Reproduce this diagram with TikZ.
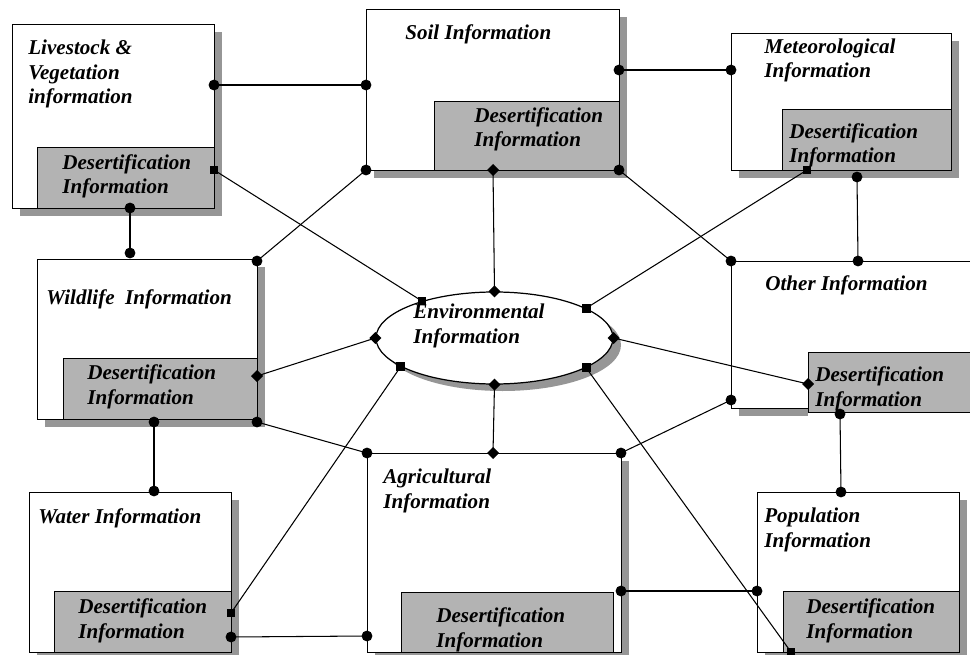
\documentclass[tikz,border=0pt]{standalone}
\usepackage{fontspec}
\setmainfont{Liberation Serif}
\usetikzlibrary{shapes.geometric}
\definecolor{shd}{RGB}{150,150,150}
\definecolor{subfill}{RGB}{179,179,179}
\tikzset{
  mbox/.style={draw=black, fill=white, anchor=north west, inner sep=0pt, line width=0.7pt},
  sbox/.style={draw=black, fill=subfill, anchor=north west, inner sep=0pt, line width=0.7pt},
  txt/.style={font=\bfseries\itshape\fontsize{12}{14}\selectfont, align=left, inner sep=0pt, anchor=base west},
  cdot/.style={circle, fill=black, inner sep=0pt, minimum size=6.2pt},
  sqm/.style={rectangle, fill=black, inner sep=0pt, minimum size=5pt},
  dmd/.style={diamond, fill=black, inner sep=0pt, minimum size=7pt},
  conn/.style={line width=0.6pt}
}
\newcommand\mainbox[5]{%
  \fill[shd] (#2+8,#3+8) rectangle (#4+8,#5+8);
  \node[mbox, minimum width={(#4-#2)*0.02cm}, minimum height={(#5-#3)*0.02cm}] (#1) at (#2,#3) {};}
\newcommand\subbox[5]{%
  \node[sbox, minimum width={(#4-#2)*0.02cm}, minimum height={(#5-#3)*0.02cm}] (#1) at (#2,#3) {};}
\begin{document}
\begin{tikzpicture}[x=0.02cm, y=-0.02cm]
\useasboundingbox (0,0) rectangle (970,655);
\clip (0,0) rectangle (970,655);
\fill[white] (0,0) rectangle (970,655);
% boxes
\mainbox{lv}{12}{24}{214}{208}
\subbox{lvd}{37}{147}{214}{208}
\mainbox{so}{366}{9}{619}{170}
\subbox{sod}{434}{101}{619}{170}
\mainbox{me}{731}{33}{951}{170}
\subbox{med}{782}{109}{951}{170}
\mainbox{wi}{37}{259}{257}{419}
\subbox{wid}{63}{358}{257}{419}
\fill[shd] (739,269) rectangle (808,416);
\node[mbox, minimum width={(1010-731)*0.02cm}, minimum height={(408-261)*0.02cm}] (ot) at (731,261) {};
\subbox{otd}{808}{352}{1010}{412}
\mainbox{wa}{29}{492}{231}{652}
\subbox{wad}{54}{591}{231}{652}
\mainbox{ag}{367}{453}{621}{652}
\subbox{agd}{401}{592}{613}{652}
\mainbox{po}{757}{492}{959}{652}
\subbox{pod}{783}{591}{959}{652}
% ellipse
\fill[shd] (502.5,345) ellipse (118.5 and 46);
\node[ellipse, draw=black, fill=white, line width=0.7pt, inner sep=0pt, minimum width={237*0.02cm}, minimum height={92*0.02cm}] (env) at (494.5,338) {};
% texts (anchor = baseline of the last line)
\node[txt] (lvt) at (28,104) {Livestock \&\\Vegetation\\information};
\node[txt] (lvdt) at (62,194) {Desertification\\Information};
\node[txt] (sot) at (405,40) {Soil Information};
\node[txt] (sodt) at (474,147) {Desertification\\Information};
\node[txt] (met) at (764,78) {Meteorological\\Information};
\node[txt] (medt) at (789,163) {Desertification\\Information};
\node[txt] (wit) at (46,304) {Wildlife\ \ Information};
\node[txt] (widt) at (87,404) {Desertification\\Information};
\node[txt] (ent) at (413,343) {Environmental\\Information};
\node[txt] (ott) at (765,290) {Other Information};
\node[txt] (otdt) at (815,406) {Desertification\\Information};
\node[txt] (wat) at (38,523) {Water Information};
\node[txt] (wadt) at (78,638) {Desertification\\Information};
\node[txt] (agt) at (383,508) {Agricultural\\Information};
\node[txt] (agdt) at (436,647) {Desertification\\Information};
\node[txt] (pot) at (764,547) {Population\\Information};
\node[txt] (podt) at (806,638) {Desertification\\Information};
% connector end points
\coordinate (lvR) at (214,85);
\coordinate (lvB) at (130,208);
\coordinate (lvS) at (214,170);
\coordinate (soL) at (366,85);
\coordinate (soR) at (619,70);
\coordinate (soBL) at (366,170);
\coordinate (soBR) at (619,170);
\coordinate (soD) at (493,170);
\coordinate (meL) at (731,70);
\coordinate (meB) at (857,177);
\coordinate (meS) at (807,170);
\coordinate (wiT) at (130,253);
\coordinate (wiTR) at (257,261);
\coordinate (wiB) at (154,422);
\coordinate (wiBR) at (257,422);
\coordinate (wiD) at (257,376);
\coordinate (otTL) at (731,261);
\coordinate (otT) at (858,261);
\coordinate (otBL) at (731,400);
\coordinate (otSB) at (840,414);
\coordinate (otD) at (808,384);
\coordinate (waT) at (154,491);
\coordinate (waR) at (231,637);
\coordinate (waS) at (231,613);
\coordinate (agTL) at (367,453);
\coordinate (agTR) at (621,453);
\coordinate (agR) at (621,591);
\coordinate (agL) at (367,636);
\coordinate (agD) at (493,453);
\coordinate (poT) at (841,492);
\coordinate (poL) at (757,591);
\coordinate (poS) at (791,652);
\coordinate (enT) at (env.90);
\coordinate (enB) at (env.270);
\coordinate (enL) at (env.180);
\coordinate (enR) at (env.0);
\coordinate (enUL) at (env.153.6);
\coordinate (enUR) at (env.18);
\coordinate (enLL) at (env.197.8);
\coordinate (enLR) at (env.342);
% connectors
\draw[conn] (lvR) -- (soL);
\draw[conn] (soR) -- (meL);
\draw[conn] (lvS) -- (enUL);
\draw[conn] (soBL) -- (wiTR);
\draw[conn] (soD) -- (enT);
\draw[conn] (soBR) -- (otTL);
\draw[conn] (meS) -- (enUR);
\draw[conn] (meB) -- (otT);
\draw[conn] (lvB) -- (wiT);
\draw[conn] (wiD) -- (enL);
\draw[conn] (enR) -- (otD);
\draw[conn] (wiBR) -- (agTL);
\draw[conn] (wiB) -- (waT);
\draw[conn] (enLL) -- (waS);
\draw[conn] (enB) -- (agD);
\draw[conn] (enLR) -- (poS);
\draw[conn] (otBL) -- (agTR);
\draw[conn] (otSB) -- (poT);
\draw[conn] (waR) -- (agL);
\draw[conn] (agR) -- (poL);
% markers
\foreach \p in {lvR,lvB,soL,soR,soBL,soBR,meL,meB,wiT,wiTR,wiB,wiBR,otTL,otT,otBL,otSB,waT,waR,agTL,agTR,agR,agL,poT,poL}
  \node[cdot] (m\p) at (\p) {};
\foreach \p in {soD,wiD,otD,agD,enT,enB,enL,enR}
  \node[dmd] (m\p) at (\p) {};
\foreach \p in {lvS,meS,waS,poS,enUL,enUR,enLL,enLR}
  \node[sqm] (m\p) at (\p) {};
\end{tikzpicture}
\end{document}
